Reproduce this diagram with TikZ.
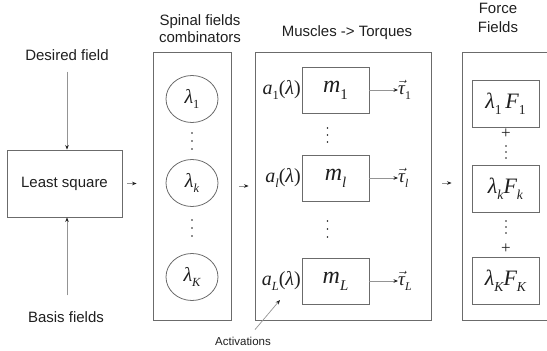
\documentclass[tikz,border=0pt]{standalone}
\usepackage{fontspec}
\usepackage{graphicx}
\setmainfont{Liberation Serif}
\setsansfont{Liberation Sans}
\usetikzlibrary{arrows.meta,shapes.geometric}

\definecolor{ink}{gray}{0.12}
\definecolor{boxline}{gray}{0.42}
\definecolor{arrline}{gray}{0.58}

% size helper, lowered subscript, vector over tau
\newcommand\fsz[1]{\fontsize{#1}{#1}\selectfont}
\newcommand\lowsub[1]{\raisebox{-0.28em}{\scalebox{0.62}{#1}}}
\newcommand\tauv[1]{$\vec{\hbox{\itshape τ}}$\lowsub{#1}}

\tikzset{
  lbl/.style={font={\sffamily\fsz{15}}, text=ink, inner sep=0pt},
  frame/.style={draw=boxline, line width=0.9pt, rectangle, inner sep=0pt, text=ink},
  musc/.style={frame, minimum width=67pt, minimum height=46pt, font={\fsz{24}\itshape}},
  field/.style={frame, minimum width=67pt, minimum height=47pt, font={\fsz{22}\itshape}},
  comb/.style={draw=boxline, line width=0.8pt, ellipse, minimum width=52pt,
               minimum height=47pt, inner sep=0pt, text=ink, font={\fsz{20}\itshape}},
  act/.style={anchor=east, inner sep=0pt, text=ink, font={\fsz{20}\itshape}},
  torque/.style={anchor=west, inner sep=0pt, text=ink, font={\fsz{19}}},
  plus/.style={inner sep=0pt, text=ink, font={\fsz{17}}},
  arr/.style={draw=arrline, line width=0.7pt,
              -{Stealth[length=4.5pt,width=3.6pt,color=ink]}},
  % three stacked dots, #1 = spacing
  vdts/.pic={\foreach \d in {-1,0,1} \fill[ink] (0,\d*#1) circle (0.95pt);},
}

\begin{document}
\begin{tikzpicture}[x=1pt,y=-1pt]
\path[use as bounding box] (0,0) rectangle (547,351);
\clip (0,0) rectangle (547,351);

% inputs and least-squares solver
\node[lbl] (desired) at (67,55) {Desired field};
\node[frame, minimum width=115pt, minimum height=67pt, font={\sffamily\fsz{15}}]
  (lsq) at (64.5,183.5) {Least square};
\node[lbl] (basis) at (66,317) {Basis fields};
\draw[arr, shorten <=11pt] (desired.south) -- (desired.south |- lsq.north);
\draw[arr, shorten <=16pt] (basis.north -| desired) -- (lsq.south -| desired);

% spinal field combinators
\node[lbl, align=center, font={\sffamily\fontsize{15}{17}\selectfont}]
  (sptitle) at (200,28.5) {Spinal fields\\combinators};
\node[frame, minimum width=78pt, minimum height=268pt] (sp) at (192,186) {};
\node[comb] (l1) at (192,99)  {λ\lowsub{\upshape 1}};
\pic at (192,141) {vdts=8};
\node[comb] (lk) at (192,183) {λ\lowsub{k}};
\pic at (192,228) {vdts=8};
\node[comb] (lK) at (192,277) {λ\lowsub{K}};

% muscles to torques
\node[lbl] (mutitle) at (347,33) {Muscles -> Torques};
\node[frame, minimum width=176pt, minimum height=268pt] (mu) at (343,186) {};
\node[musc] (m1) at (335.5,90)  {m\lowsub{\upshape 1}};
\node[musc] (ml) at (335.5,178) {m\lowsub{l}};
\node[musc] (mL) at (335.5,281) {m\lowsub{L}};
\node[act] (a1) at (301,90)  {a\lowsub{\upshape 1}\upshape(\itshape λ\upshape)};
\node[act] (al) at (301,178) {a\lowsub{l}\upshape(\itshape λ\upshape)};
\node[act] (aL) at (301,281) {a\lowsub{L}\upshape(\itshape λ\upshape)};
\node[torque] (t1) at (398,90)  {\tauv{\upshape 1}};
\node[torque] (tl) at (398,178) {\tauv{\itshape l}};
\node[torque] (tL) at (398,281) {\tauv{\itshape L}};
\draw[arr] (m1.east) -- (t1.west);
\draw[arr] (ml.east) -- (tl.west);
\draw[arr] (mL.east) -- (tL.west);
\pic at (327.5,135) {vdts=7};
\pic at (327.5,229) {vdts=8};

% activations pointer
\node[inner sep=0pt, text=ink, font={\sffamily\fsz{11.5}}] (actlbl) at (243,341) {Activations};
\coordinate (acttip) at (280,300);
\draw[arr] ([xshift=12pt,yshift=7pt]actlbl.north) -- (acttip);

% force fields
\node[lbl, align=center, font={\sffamily\fontsize{15}{19}\selectfont}]
  (fotitle) at (498,17.5) {Force\\Fields};
\node[frame, minimum width=98pt, minimum height=268pt] (fo) at (511,186) {};
\node[field] (f1) at (505.5,103.5) {λ\lowsub{\upshape 1}\,F\lowsub{\upshape 1}};
\node[plus] (p1) at (506,134) {+};
\pic at (506,152) {vdts=6};
\node[field] (fk) at (505.5,188.5) {λ\lowsub{k}F\lowsub{k}};
\pic at (506,227) {vdts=6};
\node[plus] (p2) at (506,249) {+};
\node[field] (fK) at (505.5,281) {λ\lowsub{K}F\lowsub{K}};

% flow between stages
\draw[arr, shorten <=5pt, shorten >=16pt] (lsq.east) -- (lsq.east -| sp.west);
\draw[arr, shorten <=8pt, shorten >=6pt] (sp.east) -- (mu.west);
\draw[arr, shorten <=11pt, shorten >=10pt] ([yshift=3pt]mu.east) -- ([yshift=3pt]fo.west);
\end{tikzpicture}
\end{document}
